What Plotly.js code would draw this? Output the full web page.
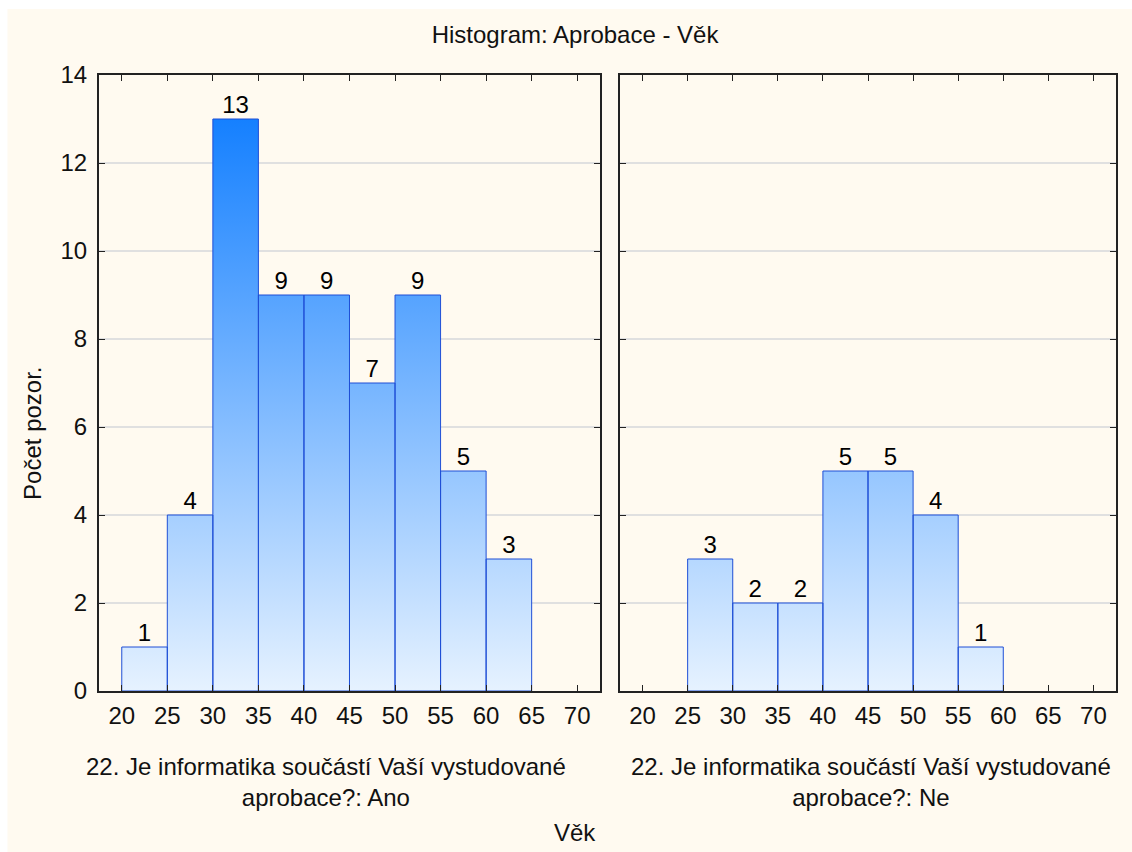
<!DOCTYPE html>
<html>
<head>
<meta charset="utf-8">
<script src="https://cdn.plot.ly/plotly-3.0.1.min.js"></script>
<style>
  body { margin: 0; background: #ffffff; }
  #myPlot { width: 1132px; height: 852px; }
</style>
</head>
<body>
<div id="myPlot"></div>
<script>
// bin edges (age, 5-year bins) and counts per panel
const binStarts = [20, 25, 30, 35, 40, 45, 50, 55, 60, 65];
const binWidth = 5;
const countsAno = [1, 4, 13, 9, 9, 7, 9, 5, 3, 0];
const countsNe = [0, 3, 2, 2, 5, 5, 4, 1, 0, 0];
const xTicks = [20, 25, 30, 35, 40, 45, 50, 55, 60, 65, 70];
const panelLabels = [
    "22. Je informatika součástí Vaší vystudované<br>aprobace?: Ano",
    "22. Je informatika součástí Vaší vystudované<br>aprobace?: Ne"
];

const font = "Liberation Sans, Arial, sans-serif";
const txt = 24;
const barLine = "#1f4fd6";
const scale = [[0, "#e6f2ff"], [1, "#1580ff"]];

// outline every bin as a closed rectangle, segments split by null
function histPath(counts) {
    let xs = [], ys = [];
    for (let i = 0; i < counts.length; i++) {
        if (counts[i] <= 0) continue;
        let a = binStarts[i], b = a + binWidth;
        xs.push(a, a, b, b, a, null);
        ys.push(0, counts[i], counts[i], 0, 0, null);
    }
    return {x: xs, y: ys};
}

function histTrace(counts, xa, ya) {
    let p = histPath(counts);
    return {
        type: "scatter",
        mode: "lines",
        x: p.x,
        y: p.y,
        xaxis: xa,
        yaxis: ya,
        fill: "toself",
        fillgradient: {type: "vertical", colorscale: scale, start: 0, stop: 13},
        line: {color: barLine, width: 1},
        hoverinfo: "skip",
        showlegend: false
    };
}

function labelTrace(counts, xa, ya) {
    let xs = [], ys = [], tx = [];
    for (let i = 0; i < counts.length; i++) {
        if (counts[i] <= 0) continue;
        xs.push(binStarts[i] + binWidth / 2);
        ys.push(counts[i]);
        tx.push(String(counts[i]));
    }
    return {
        type: "scatter",
        mode: "text",
        x: xs,
        y: ys,
        text: tx,
        textposition: "top center",
        textfont: {family: font, size: txt, color: "#000"},
        xaxis: xa,
        yaxis: ya,
        cliponaxis: false,
        hoverinfo: "skip",
        showlegend: false
    };
}

const data = [
    histTrace(countsAno, "x", "y"),
    labelTrace(countsAno, "x", "y"),
    histTrace(countsNe, "x2", "y2"),
    labelTrace(countsNe, "x2", "y2")
];

function xAxis(domain, anchor) {
    return {
        domain: domain,
        anchor: anchor,
        range: [17.5, 72.5],
        tickvals: xTicks,
        ticks: "inside",
        ticklen: 6,
        tickcolor: "#222",
        showline: true,
        linecolor: "#222",
        linewidth: 2,
        mirror: "ticks",
        showgrid: false,
        zeroline: false,
        ticklabelstandoff: 2,
        tickfont: {family: font, size: txt, color: "#111"}
    };
}

function yAxis(anchor, withLabels) {
    return {
        anchor: anchor,
        range: [0, 14],
        dtick: 2,
        ticks: "inside",
        ticklen: 6,
        tickcolor: "#222",
        showline: true,
        linecolor: "#222",
        linewidth: 2,
        mirror: "ticks",
        showgrid: true,
        gridcolor: "#e0e0e0",
        gridwidth: 1.5,
        zeroline: false,
        showticklabels: withLabels,
        ticklabelstandoff: 5,
        tickfont: {family: font, size: txt, color: "#111"}
    };
}

function note(text, x, y, angle) {
    return {
        text: text,
        xref: "paper",
        yref: "paper",
        x: x,
        y: y,
        xanchor: "center",
        yanchor: "middle",
        align: "center",
        textangle: angle,
        showarrow: false,
        font: {family: font, size: txt, color: "#111"}
    };
}

const layout = {
    width: 1132,
    height: 852,
    margin: {l: 99, r: 16, t: 75, b: 161},
    paper_bgcolor: "#ffffff",
    plot_bgcolor: "#ffffff",
    title: {
        text: "Histogram: Aprobace - Věk",
        font: {family: font, size: txt, color: "#111"},
        x: 0.508,
        xanchor: "center",
        y: 0.959,
        yanchor: "middle"
    },
    xaxis: xAxis([0, 0.4926], "y"),
    yaxis: yAxis("x", true),
    xaxis2: xAxis([0.5123, 1], "y2"),
    yaxis2: yAxis("x2", false),
    shapes: [{
        type: "rect",
        xref: "paper",
        yref: "paper",
        x0: -0.09,
        x1: 1.02,
        y0: -0.27,
        y1: 1.107,
        fillcolor: "#fffaf0",
        line: {width: 0},
        layer: "below"
    }],
    annotations: [
        note(panelLabels[0], 0.2232, -0.148, 0),
        note(panelLabels[1], 0.759, -0.148, 0),
        note("Věk", 0.468, -0.229, 0),
        note("Počet pozor.", -0.0649, 0.419, -90)
    ]
};

Plotly.newPlot("myPlot", data, layout, {displayModeBar: false, staticPlot: true});
</script>
</body>
</html>
